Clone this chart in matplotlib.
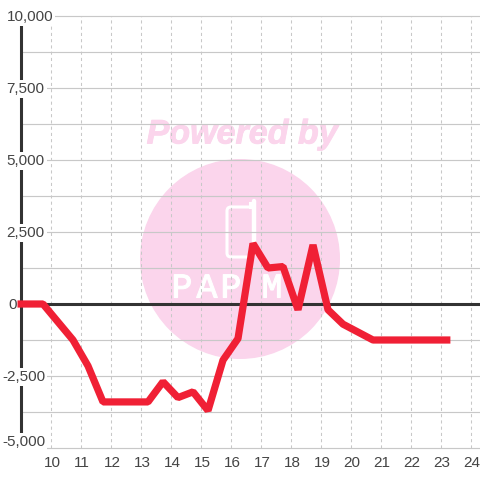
import matplotlib
matplotlib.use("Agg")
import matplotlib.pyplot as plt
import matplotlib.patheffects as pe
from matplotlib.patches import Circle, FancyBboxPatch

plt.rcParams['font.family'] = ['Liberation Sans', 'DejaVu Sans']

# data
hours = [8.9, 9.75, 10.75, 11.25, 11.75, 13.25, 13.75, 14.25, 14.75, 15.25,
         15.75, 16.25, 16.75, 17.25, 17.75, 18.25, 18.75, 19.25, 19.75, 20.75, 23.33]
values = [0, 0, -1250, -2150, -3400, -3400, -2700, -3250, -3050, -3700,
          -1950, -1200, 2100, 1250, 1300, -200, 2050, -200, -700, -1250, -1250]
x_ticks = list(range(10, 25))
y_grid = [-5000, -3750, -2500, -1250, 0, 1250, 2500, 3750, 5000, 6250, 7500, 8750, 10000]
y_ticks = [10000, 7500, 5000, 2500, 0, -2500, -5000]
y_labels = ['10,000', '7,500', '5,000', '2,500', '0', '-2,500', '-5,000']
logo_letters = ['P', 'A', 'P', 'M']
logo_x = [182, 207, 231, 272]

PX = 1 / 30.0  # x units per pixel
GRID = '#c8c8c8'
DARK = '#333333'
TEXT = '#444444'
RED = '#f02035'
PINK = '#fbd5ec'

fig = plt.figure(figsize=(4.8, 4.8), dpi=100, facecolor='white')

# watermark sits under everything, in pixel coordinates
wm = fig.add_axes([0, 0, 1, 1], zorder=1)
wm.set_xlim(0, 480)
wm.set_ylim(480, 0)
wm.axis('off')
wm.add_patch(Circle((240, 259), 100, fc=PINK, ec='none'))
wm.text(242, 135, 'Powered by', color=PINK, fontsize=24.5, fontweight='bold',
        fontstyle='italic', ha='center', va='center',
        path_effects=[pe.withStroke(linewidth=0.6, foreground=PINK)])
wm.add_patch(FancyBboxPatch((227, 207), 27, 50, boxstyle='round,pad=0,rounding_size=4',
                            fc='none', ec='white', lw=2.2))
wm.plot([254, 254], [201, 245], color='white', lw=3.2, solid_capstyle='round')
wm.plot([250, 250], [203, 207], color='white', lw=2.2)
for lx, ch in zip(logo_x, logo_letters):
    wm.text(lx, 288, ch, color='white', fontsize=25, family='Liberation Mono',
            ha='center', va='center',
            path_effects=[pe.withStroke(linewidth=0.8, foreground='white')])

ax = fig.add_axes([0, 0, 1, 1], zorder=2)
ax.patch.set_alpha(0)
ax.set_xlim(10 - 50.5 * PX, 10 + 429.5 * PX)
ax.set_ylim(-176 / 0.0288, 304 / 0.0288)
ax.axis('off')

x0, x1 = ax.get_xlim()
ax.hlines(y_grid, 9, x1, color=GRID, lw=0.85, zorder=1)
ax.vlines(x_ticks, -5000, 10000, color=GRID, lw=0.75, linestyles=(0, (3, 3)), zorder=1)
ax.hlines(0, 9, x1, color=DARK, lw=2.2, zorder=2)
ax.plot([9, 9], [-5000, 10000], color=DARK, lw=2.2, solid_capstyle='butt', zorder=2)

ax.plot(hours, values, color=RED, lw=5.2, solid_joinstyle='bevel',
        solid_capstyle='butt', zorder=3)

# tick labels have a white box behind them that cuts the axis and the grid
for v, lab in zip(y_ticks, y_labels):
    left = 2 if lab.startswith('-') else (8 if lab == '0' else 6.5)
    y = v + 220 if v == -5000 else v - 40
    ax.text(x0 + left * PX, y, lab, color=TEXT, fontsize=11, ha='left', va='center',
            zorder=4, bbox=dict(fc='white', ec='none', pad=1.5) if lab != '0' else None)
for t in x_ticks:
    ax.text(t + 0.05, -5510, str(t), color=TEXT, fontsize=11, ha='center', va='center', zorder=4)

fig.savefig('out.png', dpi=100)
